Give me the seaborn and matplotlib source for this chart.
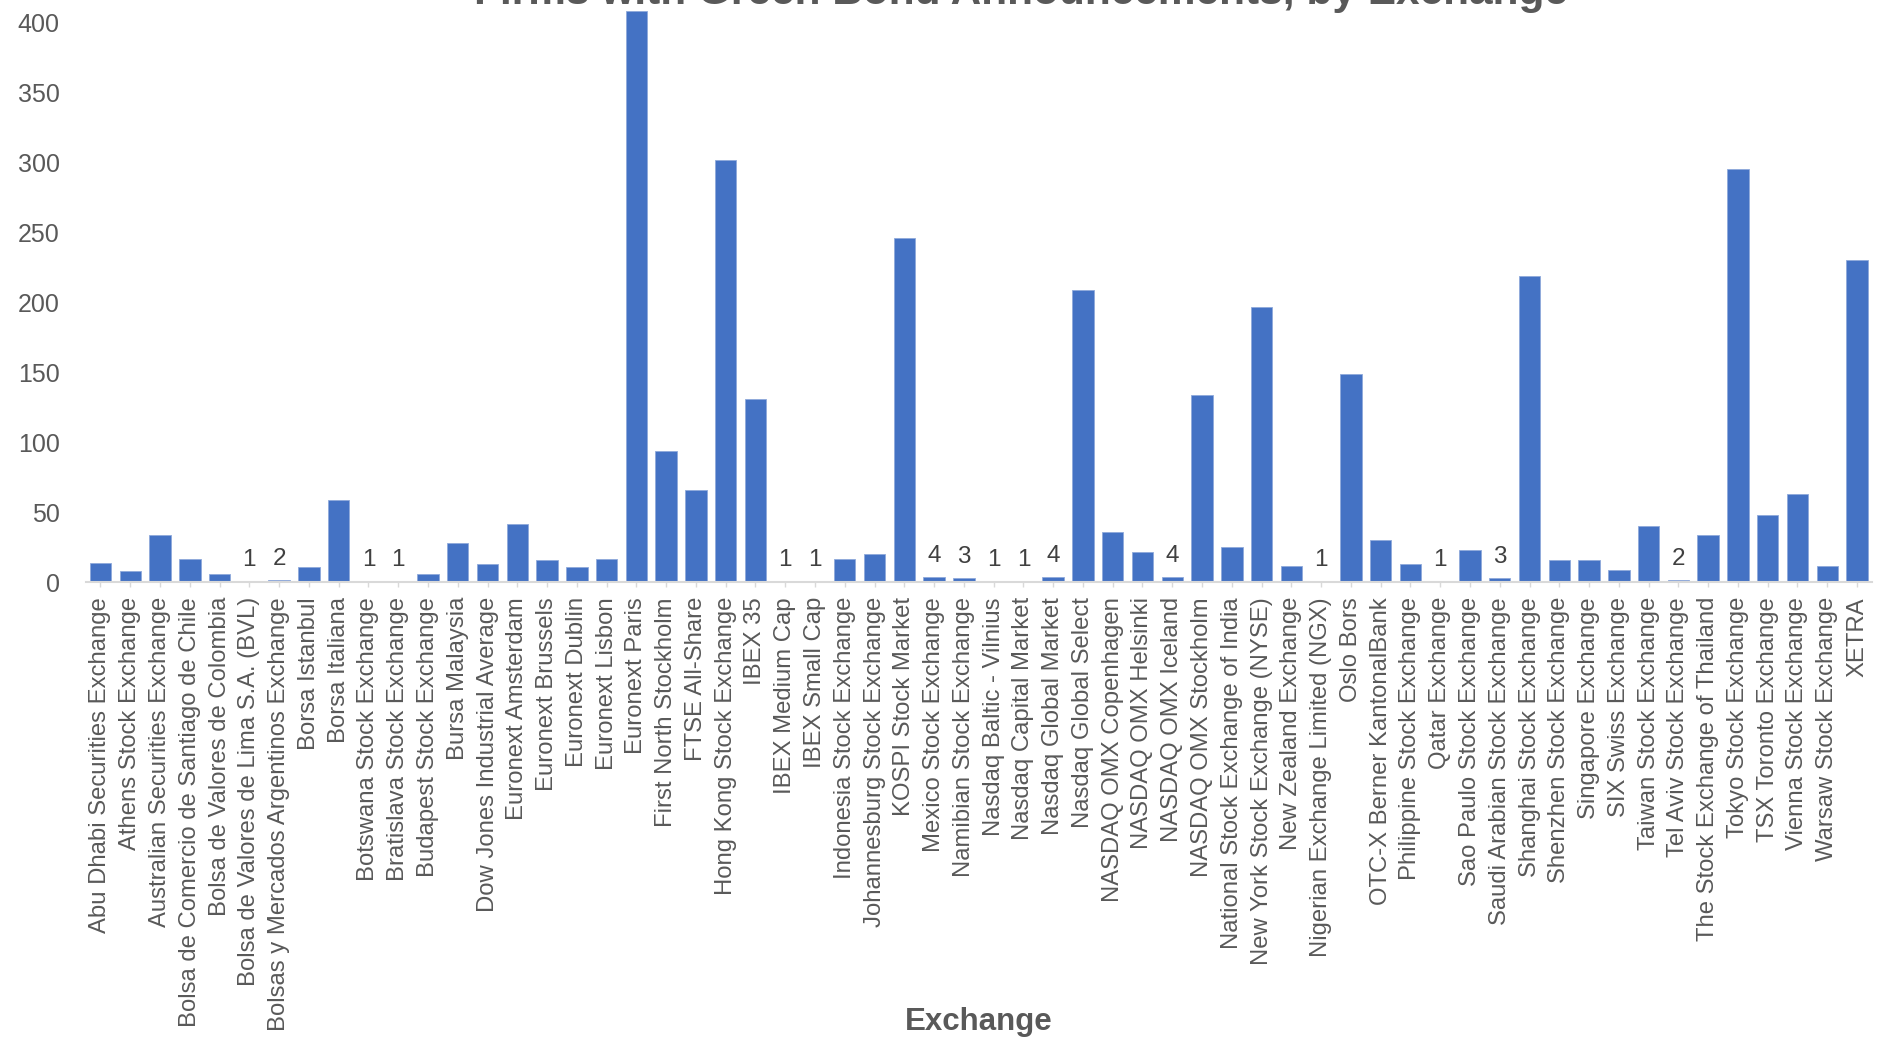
import matplotlib
matplotlib.use("Agg")
import matplotlib.pyplot as plt
import seaborn as sns
import pandas as pd

exchanges = [
    "Abu Dhabi Securities Exchange", "Athens Stock Exchange", "Australian Securities Exchange",
    "Bolsa de Comercio de Santiago de Chile", "Bolsa de Valores de Colombia",
    "Bolsa de Valores de Lima S.A. (BVL)", "Bolsas y Mercados Argentinos Exchange",
    "Borsa Istanbul", "Borsa Italiana", "Botswana Stock Exchange", "Bratislava Stock Exchange",
    "Budapest Stock Exchange", "Bursa Malaysia", "Dow Jones Industrial Average",
    "Euronext Amsterdam", "Euronext Brussels", "Euronext Dublin", "Euronext Lisbon",
    "Euronext Paris", "First North Stockholm", "FTSE All-Share", "Hong Kong Stock Exchange",
    "IBEX 35", "IBEX Medium Cap", "IBEX Small Cap", "Indonesia Stock Exchange",
    "Johannesburg Stock Exchange", "KOSPI Stock Market", "Mexico Stock Exchange",
    "Namibian Stock Exchange", "Nasdaq Baltic - Vilnius", "Nasdaq Capital Market",
    "Nasdaq Global Market", "Nasdaq Global Select", "NASDAQ OMX Copenhagen",
    "NASDAQ OMX Helsinki", "NASDAQ OMX Iceland", "NASDAQ OMX Stockholm",
    "National Stock Exchange of India", "New York Stock Exchange (NYSE)",
    "New Zealand Exchange", "Nigerian Exchange Limited (NGX)", "Oslo Bors",
    "OTC-X Berner KantonalBank", "Philippine Stock Exchange", "Qatar Exchange",
    "Sao Paulo Stock Exchange", "Saudi Arabian Stock Exchange", "Shanghai Stock Exchange",
    "Shenzhen Stock Exchange", "Singapore Exchange", "SIX Swiss Exchange",
    "Taiwan Stock Exchange", "Tel Aviv Stock Exchange", "The Stock Exchange of Thailand",
    "Tokyo Stock Exchange", "TSX Toronto Exchange", "Vienna Stock Exchange",
    "Warsaw Stock Exchange", "XETRA",
]

firm_counts = [
    14, 8, 34, 17, 6, 1, 2, 11, 59, 1, 1, 6, 28, 13, 42, 16, 11, 17, 408, 94,
    66, 302, 131, 1, 1, 17, 20, 246, 4, 3, 1, 1, 4, 209, 36, 22, 4, 134, 25, 197,
    12, 1, 149, 30, 13, 1, 23, 3, 219, 16, 16, 9, 40, 2, 34, 295, 48, 63, 12, 230,
]

y_ticks = [0, 50, 100, 150, 200, 250, 300, 350, 400]

title_text = "Firms with Green Bond Announcements, by Exchange"
xlabel_text = "Exchange"

sns.set_theme(style="white")
plt.rcParams["font.family"] = ["Liberation Sans", "DejaVu Sans"]

W, H = 1879, 1038
fig = plt.figure(figsize=(W / 100, H / 100), dpi=100)
ax = fig.add_axes([85.6 / W, 1 - 582.3 / H, 1786.3 / W, 582.3 / H])

df = pd.DataFrame({"Exchange": exchanges, "Firms": firm_counts})
sns.barplot(data=df, x="Exchange", y="Firms", color="#4472C4", saturation=1,
            width=0.72, edgecolor="#8EA9DB", linewidth=0.6, ax=ax)

ax.set_ylim(0, 416)
ax.set_yticks(y_ticks)
ax.set_xlim(-0.5, len(exchanges) - 0.5)
for s in ["top", "right", "left"]:
    ax.spines[s].set_visible(False)
ax.spines["bottom"].set_color("#D9D9D9")
ax.spines["bottom"].set_linewidth(1.5)

ax.tick_params(axis="x", rotation=90, labelsize=17.2, labelcolor="#595959",
               color="#D9D9D9", length=3.6, width=1, pad=7, bottom=True)
ax.tick_params(axis="y", labelsize=18, labelcolor="#595959", length=0, pad=18.7)
ax.set_xlabel("")
ax.set_ylabel("")
ax.grid(False)

labels = [str(v) if v < 5 else "" for v in firm_counts]
ax.bar_label(ax.containers[0], labels=labels, padding=7, fontsize=17.5, color="#404040")

fig.text(1021 / W, 1 - 4 / H, title_text, ha="center", va="baseline",
         fontsize=30.5, fontweight="bold", color="#595959")
fig.text(979 / W, 1 - 1030 / H, xlabel_text, ha="center", va="baseline",
         fontsize=22.5, fontweight="bold", color="#595959")

fig.savefig("out.png", dpi=100)
